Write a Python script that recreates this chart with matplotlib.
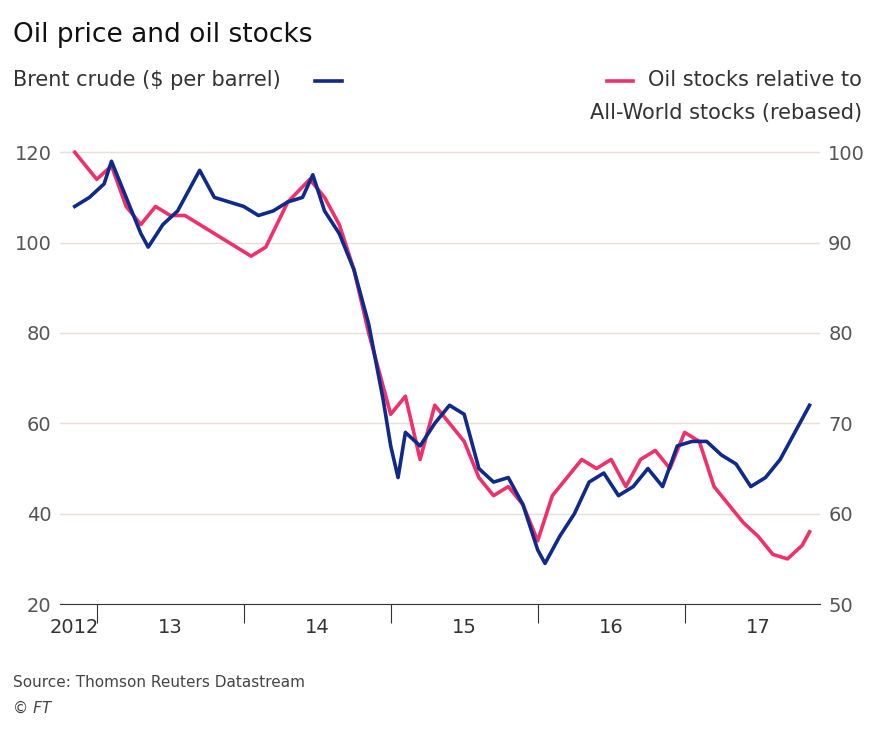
import matplotlib.pyplot as plt

# Brent crude, $ per barrel (left axis)
brent_t = [2012.85, 2012.95, 2013.05, 2013.1, 2013.2, 2013.3, 2013.35, 2013.45, 2013.55, 2013.65,
           2013.7, 2013.8, 2013.9, 2014.0, 2014.1, 2014.2, 2014.3, 2014.4, 2014.47, 2014.55,
           2014.65, 2014.75, 2014.85, 2014.95, 2015.0, 2015.05, 2015.1, 2015.2, 2015.3, 2015.4,
           2015.5, 2015.6, 2015.7, 2015.8, 2015.9, 2016.0, 2016.05, 2016.15, 2016.25, 2016.35,
           2016.45, 2016.55, 2016.65, 2016.75, 2016.85, 2016.95, 2017.05, 2017.15, 2017.25,
           2017.35, 2017.45, 2017.55, 2017.65, 2017.75, 2017.85]
brent_v = [108, 110, 113, 118, 110, 102, 99, 104, 107, 113,
           116, 110, 109, 108, 106, 107, 109, 110, 115, 107,
           102, 94, 82, 65, 55, 48, 58, 55, 60, 64,
           62, 50, 47, 48, 42, 32, 29, 35, 40, 47,
           49, 44, 46, 50, 46, 55, 56, 56, 53,
           51, 46, 48, 52, 58, 64]

# Oil stocks relative to All-World stocks, rebased (right axis)
stocks_t = [2012.85, 2013.0, 2013.1, 2013.2, 2013.3, 2013.4, 2013.5, 2013.6, 2013.7, 2013.8,
            2013.9, 2014.05, 2014.15, 2014.3, 2014.45, 2014.55, 2014.65, 2014.75, 2014.85, 2014.95,
            2015.0, 2015.1, 2015.2, 2015.3, 2015.4, 2015.5, 2015.6, 2015.7, 2015.8, 2015.9,
            2016.0, 2016.1, 2016.2, 2016.3, 2016.4, 2016.5, 2016.6, 2016.7, 2016.8, 2016.9,
            2017.0, 2017.1, 2017.2, 2017.3, 2017.4, 2017.5, 2017.6, 2017.7, 2017.8, 2017.85]
stocks_v = [100, 97, 98.5, 94, 92, 94, 93, 93, 92, 91,
            90, 88.5, 89.5, 94.5, 97, 95, 92, 87, 80, 74,
            71, 73, 66, 72, 70, 68, 64, 62, 63, 61,
            57, 62, 64, 66, 65, 66, 63, 66, 67, 65,
            69, 68, 63, 61, 59, 57.5, 55.5, 55, 56.5, 58]

year_ticks = [2013, 2014, 2015, 2016, 2017]
label_pos = [2012.85, 2013.5, 2014.5, 2015.5, 2016.5, 2017.5]
label_txt = ['2012', '13', '14', '15', '16', '17']

navy = '#0F2A8A'
pink = '#F0306A'
grey = '#555555'

fig = plt.figure(figsize=(8.96, 7.34), dpi=100)
ax = fig.add_axes([0.067, 0.177, 0.848, 0.639])
ax2 = ax.twinx()

# pink series drawn on the left axis after mapping right-axis units (50-100 -> 20-120)
ax.plot(stocks_t, [(v - 50) * 2 + 20 for v in stocks_v], color=pink, lw=2.6, zorder=2)
ax.plot(brent_t, brent_v, color=navy, lw=2.6, zorder=3)

ax.set_xlim(2012.75, 2017.92)
ax.set_ylim(20, 123.8)
ax2.set_ylim(50, 101.9)
ax.set_yticks([20, 40, 60, 80, 100, 120])
ax2.set_yticks([50, 60, 70, 80, 90, 100])
ax.grid(axis='y', color='#e6e0d8', lw=1)

for a in (ax, ax2):
    for s in a.spines.values():
        s.set_visible(False)
    a.tick_params(axis='y', length=0, labelsize=14, labelcolor=grey, pad=6)
ax.spines['bottom'].set_visible(True)
ax.spines['bottom'].set_color('#333333')
ax.set_xticks(year_ticks)
ax.set_xticklabels([])
ax.tick_params(axis='x', length=14, direction='out', color='#333333')
for p, t in zip(label_pos, label_txt):
    ax.text(p, -0.03, t, transform=ax.get_xaxis_transform(), ha='center', va='top',
            fontsize=14, color='#333333')

fig.text(0.015, 0.97, 'Oil price and oil stocks', fontsize=19, va='top', color='#111111')
fig.text(0.015, 0.905, 'Brent crude ($ per barrel)', fontsize=15, va='top', color='#333333')
fig.lines.append(plt.Line2D([0.352, 0.382], [0.89, 0.89], color=navy, lw=2.6, transform=fig.transFigure))
fig.text(0.962, 0.905, 'Oil stocks relative to', fontsize=15, va='top', ha='right', color='#333333')
fig.text(0.962, 0.86, 'All-World stocks (rebased)', fontsize=15, va='top', ha='right', color='#333333')
fig.lines.append(plt.Line2D([0.677, 0.707], [0.89, 0.89], color=pink, lw=2.6, transform=fig.transFigure))
fig.text(0.015, 0.08, 'Source: Thomson Reuters Datastream', fontsize=11, va='top', color='#444444')
fig.text(0.015, 0.045, '© FT', fontsize=11, va='top', color='#444444', style='italic')

fig.savefig('out.png', dpi=100)
